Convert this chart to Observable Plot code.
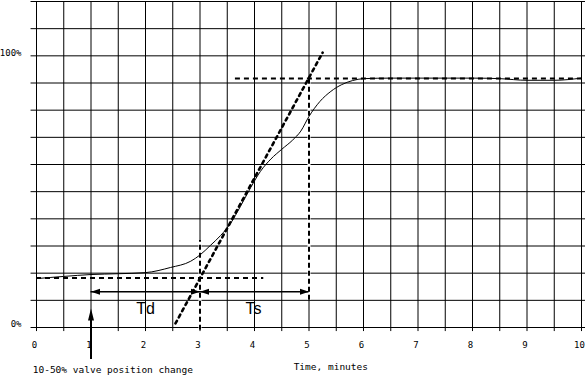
<!DOCTYPE html>
<html><head><meta charset="utf-8">
<script src="https://cdn.jsdelivr.net/npm/d3@7"></script>
<script src="https://cdn.jsdelivr.net/npm/@observablehq/plot@0.6"></script>
<style>html,body{margin:0;padding:0;background:#fff}#chart svg{display:block}</style>
</head><body><div id="chart"></div>
<script>
// Process response curve (time in minutes, output in %)
const timeMin     = [0, 0.5, 1, 1.5, 2, 2.46, 2.83, 3.0, 3.19, 3.38, 3.56, 3.74, 3.93, 4.11, 4.3, 4.5, 4.7, 4.85, 5.0, 5.2, 5.4, 5.6, 5.8, 6.0, 6.5, 7, 7.5, 8, 8.5, 9, 9.5, 10];
const responsePct = [18.0, 18.8, 19.5, 19.8, 20.2, 22.1, 24.4, 26.7, 30.2, 33.9, 38.3, 44.5, 51.5, 57.5, 62.0, 65.6, 69.0, 72.3, 77.7, 83.2, 86.9, 89.4, 90.9, 91.6, 91.8, 91.8, 91.8, 91.8, 91.6, 91.0, 91.0, 91.8];
// Tangent through the inflection point
const tangentTime = [2.55, 5.25];
const tangentPct  = [1.5, 101.2];
// Initial and final levels
const initialLevel = 18.2, initialEnd = 4.17;
const finalLevel = 91.7, finalStart = 3.65;
// Dead time / time constant markers
const valveStepTime = 1, tangentStartTime = 3, tangentEndTime = 5;
const markerLevel = 13.2;
const tdLabel = "Td", tsLabel = "Ts";
// Axis ticks / labels
const xGrid = [0,0.5,1,1.5,2,2.5,3,3.5,4,4.5,5,5.5,6,6.5,7,7.5,8,8.5,9,9.5,10];
const yGrid = [0,10,20,30,40,50,60,70,80,90,100,110,120];
const xTickValues = [0,1,2,3,4,5,6,7,8,9,10];
const xTickLabels = ["0","1","2","3","4","5","6","7","8","9","10"];
const yTickValues = [100, 0];
const yTickLabels = ["100%", "0%"];
const xAxisTitle = "Time, minutes";
const valveNote = "10-50% valve position change";

const curve = timeMin.map((t, i) => ({t, v: responsePct[i]}));
const tangent = tangentTime.map((t, i) => ({t, v: tangentPct[i]}));

const mk = (pts) => ({draw(ctx){ ctx.moveTo(pts[0][0], pts[0][1]); for (const p of pts.slice(1)) ctx.lineTo(p[0], p[1]); ctx.closePath(); }});
const headRight = mk([[0,0],[-9,-3],[-9,3]]);
const headLeft  = mk([[0,0],[9,-3],[9,3]]);
const headUp    = mk([[0,0],[-3,12],[3,12]]);

const mono = "DejaVu Sans Mono";
const plot = Plot.plot({
  width: 585, height: 376,
  marginLeft: 36, marginRight: 4, marginTop: 1, marginBottom: 49,
  x: {domain: [0, 10], axis: null},
  y: {domain: [0, 120], axis: null},
  style: {background: "white"},
  marks: [
    Plot.ruleX(xGrid, {x: d => d, y1: -1.5, y2: 120, stroke: "black", strokeWidth: 1}),
    Plot.ruleY(yGrid, {y: d => d, x1: -0.1, x2: 10.1, stroke: "black", strokeWidth: 1}),
    // dashed verticals (overwrite the grid line)
    Plot.ruleX([tangentStartTime], {y1: -1, y2: 32, stroke: "white", strokeWidth: 3}),
    Plot.ruleX([tangentEndTime], {y1: 10, y2: finalLevel, stroke: "white", strokeWidth: 3}),
    Plot.ruleX([tangentStartTime], {y1: -1, y2: 32, stroke: "black", strokeWidth: 2, strokeDasharray: "5,3"}),
    Plot.ruleX([tangentEndTime], {y1: 10, y2: finalLevel, stroke: "black", strokeWidth: 2, strokeDasharray: "5,3"}),
    // initial and final levels
    Plot.ruleY([initialLevel], {x1: 0, x2: initialEnd, stroke: "black", strokeWidth: 2, strokeDasharray: "5,4"}),
    Plot.ruleY([finalLevel], {x1: finalStart, x2: 10.1, stroke: "black", strokeWidth: 2, strokeDasharray: "5,4"}),
    // tangent
    Plot.line(tangent, {x: "t", y: "v", stroke: "black", strokeWidth: 2.6, strokeDasharray: "3,4"}),
    // response
    Plot.line(curve, {x: "t", y: "v", stroke: "black", strokeWidth: 1, curve: "monotone-x"}),
    // Td / Ts dimension line
    Plot.ruleY([markerLevel], {x1: valveStepTime, x2: tangentEndTime, stroke: "black", strokeWidth: 1.5}),
    Plot.dot([valveStepTime, tangentStartTime], {x: d => d, y: markerLevel, symbol: headLeft, r: 4, fill: "black", stroke: "none"}),
    Plot.dot([tangentStartTime, tangentEndTime], {x: d => d, y: markerLevel, symbol: headRight, r: 4, fill: "black", stroke: "none"}),
    // valve step arrow
    Plot.ruleX([valveStepTime], {y1: -11.8, y2: 4, stroke: "black", strokeWidth: 2}),
    Plot.dot([valveStepTime], {x: d => d, y: 7, symbol: headUp, r: 4, fill: "black", stroke: "none"}),
    Plot.text([tdLabel], {x: 2.0, y: 7, text: d => d, fontFamily: "Liberation Sans", fontSize: 16, fill: "black"}),
    Plot.text([tsLabel], {x: 3.98, y: 7, text: d => d, fontFamily: "Liberation Sans", fontSize: 16, fill: "black"}),
    // tick labels
    Plot.text(xTickValues, {x: d => d, y: -6.6, text: (d, i) => xTickLabels[i], dx: -2, fontFamily: mono, fontSize: 9, fill: "black"}),
    Plot.text(yTickValues, {x: 0, y: d => d, text: (d, i) => yTickLabels[i], dx: -15, dy: -3, textAnchor: "end", fontFamily: mono, fontSize: 9, fill: "black"}),
    Plot.text([xAxisTitle], {x: 5.4, y: -14.4, text: d => d, fontFamily: mono, fontSize: 9.5, fill: "black"}),
    Plot.text([valveNote], {x: 1.4, y: -15.6, text: d => d, fontFamily: mono, fontSize: 9.5, fill: "black"})
  ]
});
document.getElementById("chart").append(plot);
</script>
</body></html>
